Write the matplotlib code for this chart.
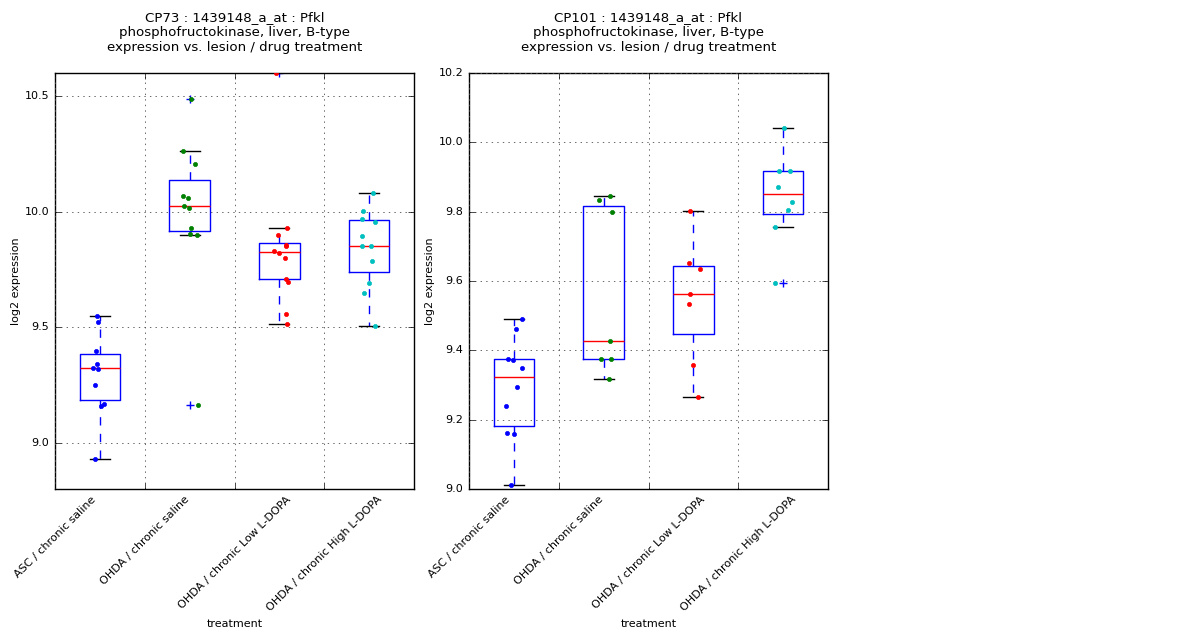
import numpy as np
import matplotlib
matplotlib.use('Agg')
import matplotlib.pyplot as plt

plt.style.use('classic')
plt.rcParams['font.family'] = ['DejaVu Sans']
plt.rcParams['font.size'] = 8

treatments = ['ASC / chronic saline', 'OHDA / chronic saline',
              'OHDA / chronic Low L-DOPA', 'OHDA / chronic High L-DOPA']
point_colors = ['b', 'g', 'r', 'c']

# CP73 : log2 expression per treatment group
cp73_asc_saline = [9.549, 9.524, 9.399, 9.343, 9.325, 9.320, 9.248, 9.167, 9.161, 8.928]
cp73_ohda_saline = [10.487, 10.264, 10.207, 10.069, 10.061, 10.026, 10.018, 9.931, 9.905, 9.900, 9.165]
cp73_ohda_low = [10.598, 9.929, 9.900, 9.853, 9.855, 9.829, 9.823, 9.801, 9.710, 9.697, 9.559, 9.516]
cp73_ohda_high = [10.081, 10.003, 9.970, 9.957, 9.896, 9.853, 9.853, 9.788, 9.693, 9.650, 9.507]
# horizontal jitter of the dots
cp73_x_asc_saline = [0.964, 0.979, 0.953, 0.964, 0.920, 0.976, 0.942, 1.046, 1.009, 0.942]
cp73_x_ohda_saline = [2.012, 1.923, 2.060, 1.923, 1.982, 1.937, 1.989, 2.012, 2.004, 2.082, 2.090]
cp73_x_ohda_low = [2.962, 3.081, 2.985, 3.074, 3.074, 2.940, 2.996, 3.063, 3.074, 3.096, 3.074, 3.085]
cp73_x_ohda_high = [4.043, 3.932, 3.921, 4.066, 3.921, 3.921, 4.021, 4.032, 3.999, 3.943, 4.066]

# CP101
cp101_asc_saline = [9.490, 9.462, 9.375, 9.372, 9.350, 9.295, 9.240, 9.162, 9.160, 9.012]
cp101_ohda_saline = [9.845, 9.835, 9.800, 9.428, 9.376, 9.376, 9.318]
cp101_ohda_low = [9.803, 9.651, 9.636, 9.563, 9.535, 9.359, 9.266]
cp101_ohda_high = [10.042, 9.918, 9.918, 9.872, 9.829, 9.806, 9.757, 9.595]
cp101_x_asc_saline = [1.087, 1.024, 0.935, 0.990, 1.087, 1.035, 0.912, 0.923, 1.001, 0.968]
cp101_x_ohda_saline = [2.071, 1.948, 2.090, 2.071, 1.971, 2.082, 2.060]
cp101_x_ohda_low = [2.959, 2.948, 3.071, 2.959, 2.948, 2.992, 3.049]
cp101_x_ohda_high = [4.006, 3.954, 4.077, 3.943, 4.096, 4.054, 3.909, 3.909]

panels = [
    ('CP73', [cp73_asc_saline, cp73_ohda_saline, cp73_ohda_low, cp73_ohda_high],
     [cp73_x_asc_saline, cp73_x_ohda_saline, cp73_x_ohda_low, cp73_x_ohda_high],
     (8.8, 10.6), [9.0, 9.5, 10.0, 10.5]),
    ('CP101', [cp101_asc_saline, cp101_ohda_saline, cp101_ohda_low, cp101_ohda_high],
     [cp101_x_asc_saline, cp101_x_ohda_saline, cp101_x_ohda_low, cp101_x_ohda_high],
     (9.0, 10.2), [9.0, 9.2, 9.4, 9.6, 9.8, 10.0, 10.2]),
]

fig = plt.figure(figsize=(12, 6.4), dpi=100, facecolor='white')
lefts = [55 / 1200., 469 / 1200.]

for (name, groups, xs, ylim, yticks), left in zip(panels, lefts):
    ax = fig.add_axes([left, 1 - 489 / 640., 359 / 1200., 416 / 640.])
    ax.boxplot(groups, widths=0.45,
               boxprops=dict(color='b', lw=1),
               medianprops=dict(color='r', lw=1),
               whiskerprops=dict(color='b', ls='--', lw=1),
               capprops=dict(color='k', lw=1),
               flierprops=dict(marker='+', markeredgecolor='b', markersize=6))
    for g, x, c in zip(groups, xs, point_colors):
        ax.plot(x, g, 'o', color=c, markeredgecolor=c, markersize=3, zorder=5)

    ax.set_xlim(0.5, 4.5)
    ax.set_ylim(*ylim)
    ax.set_yticks(yticks)
    ax.set_xticks(np.arange(len(treatments)) + 0.5)
    ax.set_xticklabels(treatments, rotation=45, ha='center')
    ax.grid(True, color='0.3', ls=':', lw=0.6)
    ax.set_ylabel('log2 expression', labelpad=2.5)
    ax.set_xlabel('treatment', labelpad=4)
    ax.set_title('%s : 1439148_a_at : Pfkl\nphosphofructokinase, liver, B-type\n'
                 'expression vs. lesion / drug treatment' % name, pad=15.5)

fig.savefig('out.png', dpi=100, facecolor='white')
